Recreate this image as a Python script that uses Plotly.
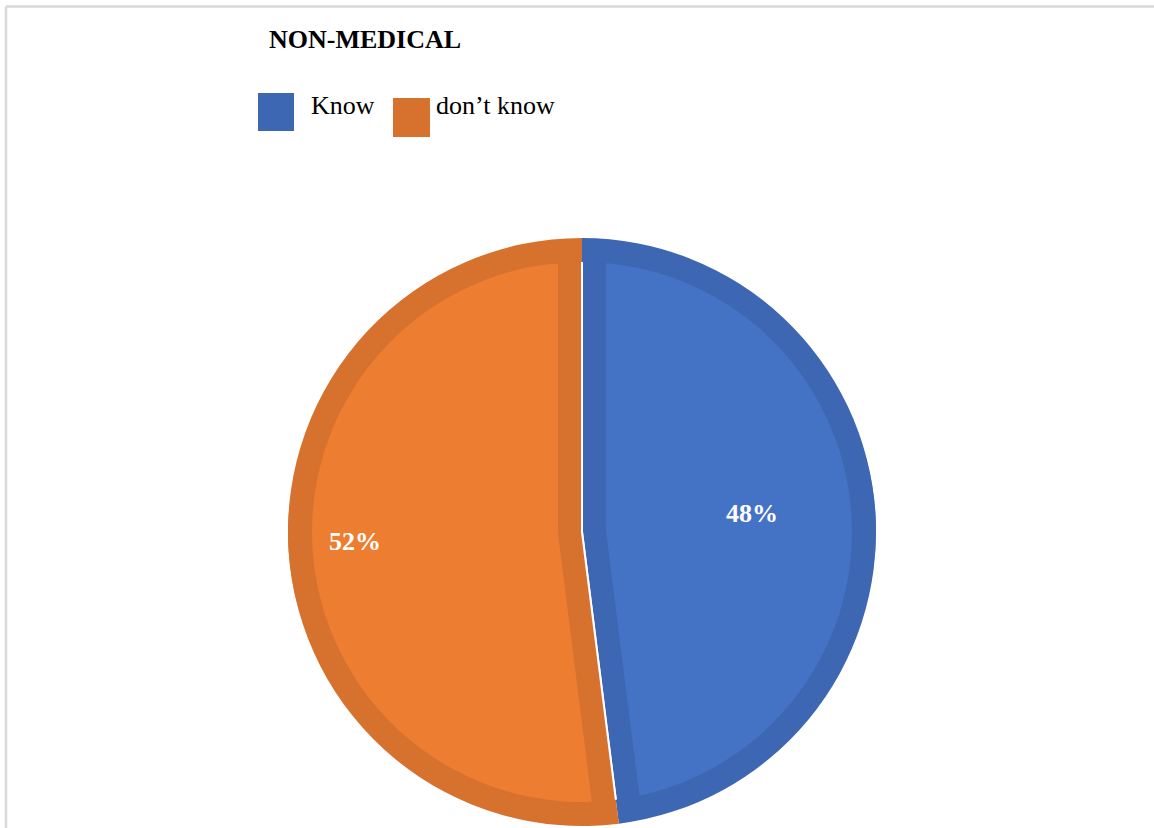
import plotly.graph_objects as go

# Survey answers for the non-medical group
categories = ["Know", "don\u2019t know"]
shares = [48, 52]
title_text = "NON-MEDICAL"

W, H = 1154, 828
light = ["#4472C4", "#ED7D31"]
dark = ["#3D67B2", "#D6712E"]

# pie geometry in pixels
cx, cy, R = 582, 532, 294
band = 24


def px(x):
    return x / W


def py(y):
    return 1 - y / H


dom_x = [px(cx - R), px(cx + R)]
dom_y = [py(cy + R), py(cy - R)]
common = dict(labels=categories, values=shares, sort=False, direction="clockwise",
              rotation=0, hoverinfo="skip", domain=dict(x=dom_x, y=dom_y),
              showlegend=False, textinfo="none")

fig = go.Figure()

# base: whole pie in the darker shade (shows as the edge bands)
fig.add_trace(go.Pie(marker=dict(colors=dark, line=dict(color="white", width=2)), **common))

# lighter wedges, pulled out so a dark strip remains along the radial edges
pull = band / (R - band)
fig.add_trace(go.Pie(pull=[pull, pull], marker=dict(colors=light, line=dict(width=0)), **common))

# dark outer rim
fig.add_trace(go.Pie(hole=(R - band) / R, marker=dict(colors=dark, line=dict(width=0)), **common))

serif = "Liberation Serif"
annotations = [
    dict(x=px(267), y=py(40), xref="paper", yref="paper", xanchor="left", yanchor="middle",
         text="<b>%s</b>" % title_text, showarrow=False,
         font=dict(family=serif, size=26, color="black")),
]

# percentage labels inside the slices
total = sum(shares)
label_pos = [(752, 513), (355, 541)]
for (lx, ly), v in zip(label_pos, shares):
    annotations.append(dict(x=px(lx), y=py(ly), xref="paper", yref="paper",
                            xanchor="center", yanchor="middle",
                            text="<b>%d%%</b>" % round(100 * v / total), showarrow=False,
                            font=dict(family=serif, size=26, color="white")))

shapes = [
    # frame around the chart area
    dict(type="line", xref="paper", yref="paper", x0=px(6), x1=1, y0=py(6.5), y1=py(6.5),
         line=dict(color="#d9d9d9", width=2.5)),
    dict(type="line", xref="paper", yref="paper", x0=px(6), x1=px(6), y0=0, y1=py(6.5),
         line=dict(color="#d9d9d9", width=2.5)),
]

# legend: coloured squares followed by category names
legend_boxes = [(258, 93, 294, 131), (393, 98, 430, 137)]
legend_text_x = [309, 434]
for i, name in enumerate(categories):
    x0, y0, x1, y1 = legend_boxes[i]
    shapes.append(dict(type="rect", xref="paper", yref="paper",
                       x0=px(x0), x1=px(x1), y0=py(y1), y1=py(y0),
                       fillcolor=dark[i], line=dict(width=0)))
    annotations.append(dict(x=px(legend_text_x[i]), y=py(105), xref="paper", yref="paper",
                            xanchor="left", yanchor="middle", text=name, showarrow=False,
                            font=dict(family=serif, size=26, color="black")))

fig.update_layout(
    width=W, height=H, margin=dict(l=0, r=0, t=0, b=0),
    paper_bgcolor="white", plot_bgcolor="white",
    annotations=annotations, shapes=shapes, showlegend=False,
)

fig.write_html("out.html")
